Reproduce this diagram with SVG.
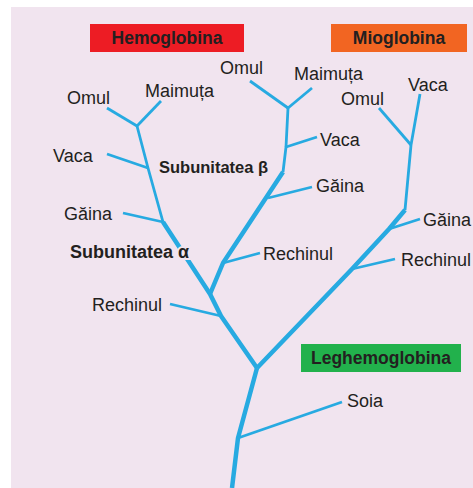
<svg xmlns="http://www.w3.org/2000/svg" width="473" height="488" viewBox="0 0 473 488">
<style>
.lbl{font-family:"Liberation Sans",Arial,sans-serif;font-size:18px;fill:#231f20}
.bold{font-family:"Liberation Sans",Arial,sans-serif;font-weight:bold;font-size:16.5px;fill:#231f20}
.ttl{font-family:"Liberation Sans",Arial,sans-serif;font-weight:bold;font-size:17.5px;fill:#231f20;text-anchor:middle}
.thick{fill:none;stroke:#27aae1;stroke-width:4.5;stroke-linejoin:round;stroke-linecap:butt}
.thin{fill:none;stroke:#27aae1;stroke-width:2.8;stroke-linejoin:round;stroke-linecap:butt}
.halo{stroke:#f1e4ef;stroke-width:4;paint-order:stroke}
</style>
<rect x="11" y="7" width="462" height="481" fill="#f1e4ef"/>
<g id="connectors">
<polyline class="thick" points="232,488 238,438 257,368"/>
<polyline class="thick" points="257,368 221,316 210,294 163,222"/>
<polyline class="thick" points="210,294 223,263 283,172"/>
<polyline class="thick" points="257,368 352,269 389,229 405,210"/>
<line class="thin" x1="238" y1="438" x2="342" y2="402"/>
<line class="thin" x1="221" y1="316" x2="170" y2="304"/>
<polyline class="thin" points="163,222 148,168 137,126"/>
<line class="thin" x1="163" y1="222" x2="123" y2="213"/>
<line class="thin" x1="148" y1="168" x2="107" y2="154"/>
<line class="thin" x1="137" y1="126" x2="107" y2="108"/>
<line class="thin" x1="137" y1="126" x2="161" y2="101"/>
<line class="thin" x1="223" y1="263" x2="260" y2="253"/>
<line class="thin" x1="268" y1="198" x2="312" y2="187"/>
<polyline class="thin" points="283,172 286,147 288,108"/>
<line class="thin" x1="286" y1="147" x2="317" y2="137"/>
<line class="thin" x1="288" y1="108" x2="250" y2="81"/>
<line class="thin" x1="288" y1="108" x2="312" y2="88"/>
<line class="thin" x1="352" y1="269" x2="395" y2="259"/>
<line class="thin" x1="389" y1="229" x2="420" y2="219"/>
<polyline class="thin" points="405,210 411,145 420,94"/>
<line class="thin" x1="411" y1="145" x2="379" y2="108"/>
</g>
<g id="hemoglobina"><rect x="90" y="24" width="154" height="28" fill="#ed1c24"/><text class="ttl" x="167" y="43.5">Hemoglobina</text></g>
<g id="mioglobina"><rect x="331" y="24" width="136" height="28" fill="#f26522"/><text class="ttl" x="399" y="43.5">Mioglobina</text></g>
<g id="leghemoglobina"><rect x="301" y="344" width="160" height="28" fill="#22b14c"/><text class="ttl" x="381" y="364">Leghemoglobina</text></g>
<g id="sub-beta"><text class="bold" x="159" y="173">Subunitatea β</text></g>
<g id="sub-alpha"><text class="bold halo" x="70" y="258" style="font-size:18px">Subunitatea α</text></g>
<g id="a-omul"><text class="lbl" x="67" y="104">Omul</text></g>
<g id="a-maimuta"><text class="lbl" x="145" y="97">Maimuța</text></g>
<g id="a-vaca"><text class="lbl" x="53" y="162">Vaca</text></g>
<g id="a-gaina"><text class="lbl" x="64" y="220">Găina</text></g>
<g id="a-rechinul"><text class="lbl" x="92" y="311">Rechinul</text></g>
<g id="b-omul"><text class="lbl" x="220" y="74">Omul</text></g>
<g id="b-maimuta"><text class="lbl" x="294" y="80">Maimuța</text></g>
<g id="b-vaca"><text class="lbl" x="320" y="146">Vaca</text></g>
<g id="b-gaina"><text class="lbl" x="316" y="192">Găina</text></g>
<g id="b-rechinul"><text class="lbl" x="263" y="260">Rechinul</text></g>
<g id="m-omul"><text class="lbl" x="341" y="105">Omul</text></g>
<g id="m-vaca"><text class="lbl" x="408" y="91">Vaca</text></g>
<g id="m-gaina"><text class="lbl" x="423" y="226">Găina</text></g>
<g id="m-rechinul"><text class="lbl" x="401" y="266">Rechinul</text></g>
<g id="soia"><text class="lbl" x="347" y="407">Soia</text></g>
</svg>
